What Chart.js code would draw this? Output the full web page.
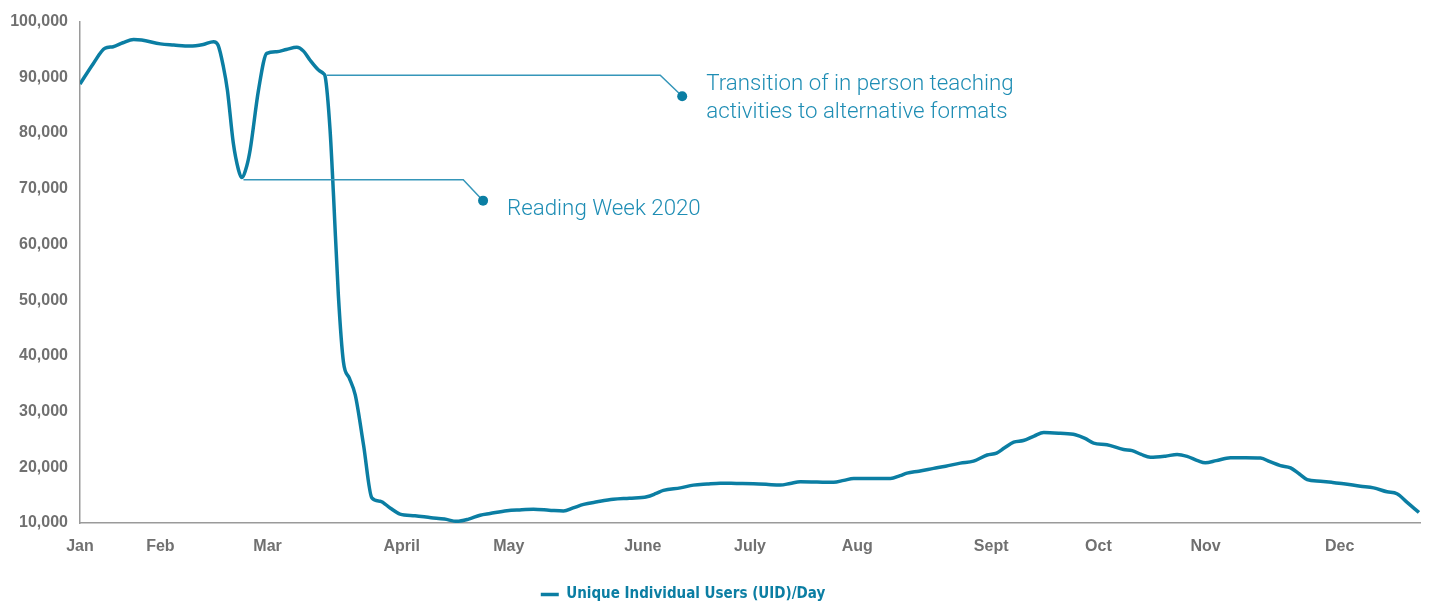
<!DOCTYPE html>
<html>
<head>
<meta charset="utf-8">
<script src="https://cdn.jsdelivr.net/npm/chart.js@4.4.1/dist/chart.umd.min.js"></script>
<style>
  html, body { margin: 0; padding: 0; background: #ffffff; }
  #wrap { width: 1429px; height: 605px; position: relative; }
</style>
</head>
<body>
<div id="wrap"><canvas id="c" width="1429" height="605"></canvas></div>
<script>
// ---- Data (x = weeks since 1 Jan, y = unique users per day) ----
const weeks = [0, 0.5, 0.93, 1.24, 1.6, 2.0, 2.3, 3.0, 3.5, 4.1, 4.6, 4.98, 5.15, 5.35, 5.5, 5.72, 5.91, 6.03, 6.22, 6.35, 6.66, 6.97, 7.34, 7.7, 8.09, 8.34, 8.58, 8.9, 9.08, 9.15, 9.33, 9.46, 9.64, 9.83, 10.05, 10.27, 10.58, 10.89, 11.2, 11.57, 11.94, 12.5, 13.1, 13.6, 14.06, 14.5, 14.93, 15.3, 15.93, 16.4, 16.92, 17.5, 18.04, 18.4, 18.79, 19.3, 19.9, 20.5, 21.15, 21.5, 21.77, 22.4, 22.89, 23.4, 23.89, 24.5, 25.13, 25.6, 26.13, 26.5, 26.88, 27.5, 28.12, 28.5, 28.87, 29.5, 30.24, 30.6, 30.86, 31.3, 31.85, 32.3, 32.85, 33.34, 33.85, 34.2, 34.5, 34.84, 35.2, 35.6, 35.96, 36.58, 37.14, 37.5, 37.82, 38.32, 38.94, 39.26, 39.6, 39.94, 40.5, 40.94, 41.31, 41.7, 41.99, 42.4, 42.93, 43.5, 44.05, 44.4, 44.79, 45.17, 45.5, 45.79, 46.29, 46.7, 47.15, 47.78, 48.27, 48.77, 49.14, 49.52, 49.96];
const users = [88800, 92500, 95200, 95500, 96200, 96800, 96700, 96000, 95800, 95600, 95900, 96400, 95800, 91900, 87700, 78200, 73450, 72000, 74050, 77000, 87700, 94300, 94600, 95000, 95400, 94700, 93100, 91300, 90700, 90100, 80600, 68750, 50900, 38900, 36000, 33000, 24000, 14500, 13900, 12700, 11600, 11300, 10950, 10700, 10300, 10700, 11400, 11700, 12200, 12350, 12450, 12300, 12150, 12700, 13350, 13800, 14250, 14450, 14700, 15300, 15850, 16300, 16800, 17000, 17150, 17100, 17050, 16950, 16800, 17100, 17400, 17350, 17300, 17650, 18000, 18000, 18000, 18500, 18950, 19300, 19800, 20200, 20750, 21100, 22200, 22550, 23500, 24500, 24800, 25600, 26250, 26100, 25850, 25200, 24350, 24050, 23200, 23000, 22300, 21800, 22000, 22300, 21950, 21200, 20800, 21200, 21700, 21700, 21650, 21000, 20300, 19900, 18800, 17800, 17500, 17300, 17050, 16600, 16300, 15600, 15250, 13700, 11900];

const monthLabels = ['Jan', 'Feb', 'Mar', 'April', 'May', 'June', 'July', 'Aug', 'Sept', 'Oct', 'Nov', 'Dec'];
const monthWeeks  = [0, 3, 7, 12, 16, 21, 25, 29, 34, 38, 42, 47];
const yTicks = [10000, 20000, 30000, 40000, 50000, 60000, 70000, 80000, 90000, 100000];

const seriesName = 'Unique Individual Users (UID)/Day';

// Annotations: anchor on the curve (data), elbow x (data), dot (data)
const annoText   = [['Reading Week 2020'], ['Transition of in person teaching', 'activities to alternative formats']];
const annoStartX = [6.1, 9.2];
const annoStartY = [71600, 90360];
const annoElbowX = [14.3, 21.65];
const annoDotX   = [15.04, 22.47];
const annoDotY   = [67860, 86600];

// ---- Styles ----
const LINE = '#0b7ea3';
const ANNO_LINE = '#3596b9';
const ANNO_TEXT = '#1e8db4';
const AXIS = '#9a9a9a';
const TICK = '#707070';
const NARROW = "'Liberation Sans Narrow', 'DejaVu Sans Condensed', 'Liberation Sans', sans-serif";

const annotationPlugin = {
  id: 'annotations',
  afterDatasetsDraw(chart) {
    const ctx = chart.ctx;
    const xs = chart.scales.x, ys = chart.scales.y;
    ctx.save();
    for (let i = 0; i < annoText.length; i++) {
      const sx = xs.getPixelForValue(annoStartX[i]);
      const sy = ys.getPixelForValue(annoStartY[i]);
      const ex = xs.getPixelForValue(annoElbowX[i]);
      const dx = xs.getPixelForValue(annoDotX[i]);
      const dy = ys.getPixelForValue(annoDotY[i]);
      ctx.strokeStyle = ANNO_LINE;
      ctx.lineWidth = 1.5;
      ctx.beginPath();
      ctx.moveTo(sx, sy);
      ctx.lineTo(ex, sy);
      ctx.lineTo(dx, dy);
      ctx.stroke();
      ctx.fillStyle = LINE;
      ctx.beginPath();
      ctx.arc(dx, dy, 5, 0, Math.PI * 2);
      ctx.fill();
      ctx.fillStyle = ANNO_TEXT;
      ctx.font = "300 22.3px Roboto, 'Liberation Sans', sans-serif";
      ctx.textBaseline = 'alphabetic';
      ctx.textAlign = 'left';
      const lines = annoText[i];
      const lh = 28;
      const baseY = lines.length === 1 ? dy + 14 : dy - 6;
      lines.forEach((t, k) => ctx.fillText(t, dx + 24, baseY + k * lh));
    }
    ctx.restore();
  }
};

const legendShift = {
  id: 'legendShift',
  afterLayout(chart) {
    if (chart.legend) {
      chart.legend.left -= 27;
      chart.legend.right -= 27;
    }
  }
};

const points = weeks.map((w, i) => ({ x: w, y: users[i] }));

new Chart(document.getElementById('c'), {
  type: 'line',
  data: {
    datasets: [{
      label: seriesName,
      data: points,
      borderColor: LINE,
      backgroundColor: LINE,
      borderWidth: 3.5,
      pointRadius: 0,
      pointHoverRadius: 0,
      cubicInterpolationMode: 'monotone',
      fill: false,
      pointStyle: 'line'
    }]
  },
  options: {
    responsive: false,
    animation: false,
    events: [],
    layout: { padding: { top: 18, right: 9, left: 0, bottom: -7 } },
    scales: {
      x: {
        type: 'linear',
        min: 0,
        max: 50,
        afterBuildTicks(scale) { scale.ticks = monthWeeks.map(v => ({ value: v })); },
        afterFit(scale) { scale.height = 54; },
        ticks: {
          autoSkip: false,
          maxRotation: 0,
          padding: 14,
          color: TICK,
          font: { family: "'Liberation Sans', Arial, sans-serif", size: 16, weight: 'bold' },
          callback(value, index) { return monthLabels[index]; }
        },
        grid: { display: true, drawOnChartArea: false, drawTicks: false },
        border: { display: true, color: AXIS, width: 1.5 }
      },
      y: {
        type: 'linear',
        min: 10000,
        max: 100000,
        afterBuildTicks(scale) { scale.ticks = yTicks.map(v => ({ value: v })); },
        afterFit(scale) { scale.width = 80; },
        ticks: {
          padding: 12,
          color: TICK,
          font: { family: "'Liberation Sans', Arial, sans-serif", size: 16, weight: 'bold' },
          callback(value) { return value.toLocaleString('en-US'); }
        },
        grid: { display: true, drawOnChartArea: false, drawTicks: false },
        border: { display: true, color: AXIS, width: 1.5 }
      }
    },
    plugins: {
      legend: {
        display: true,
        position: 'bottom',
        labels: {
          usePointStyle: true,
          pointStyle: 'line',
          pointStyleWidth: 18,
          boxWidth: 18,
          padding: 10,
          color: LINE,
          font: { family: NARROW, size: 15, weight: 'bold' }
        }
      },
      tooltip: { enabled: false },
      title: { display: false }
    }
  },
  plugins: [annotationPlugin, legendShift]
});
</script>
</body>
</html>
